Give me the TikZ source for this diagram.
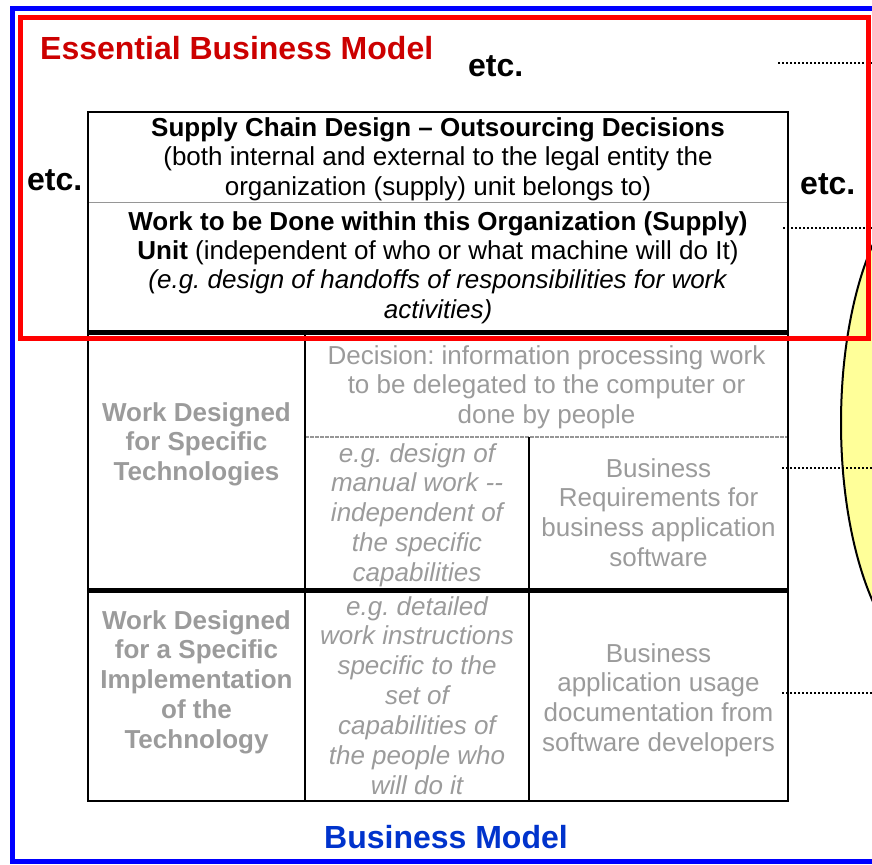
\documentclass[tikz,border=0pt]{standalone}
\usepackage{fontspec}
\setmainfont{Liberation Sans}
\usetikzlibrary{shapes.geometric}
\frenchspacing
\definecolor{txtgray}{RGB}{155,155,155}
\definecolor{ebmred}{RGB}{204,0,0}
\definecolor{bmblue}{RGB}{0,51,204}
\definecolor{frameblue}{RGB}{0,0,255}
\definecolor{framered}{RGB}{255,0,0}
\definecolor{ellyellow}{RGB}{255,255,153}
\definecolor{linegray}{RGB}{150,150,150}
\begin{document}
\begin{tikzpicture}[x=1pt,y=-1pt,
  cell/.style={align=center, inner sep=0pt, anchor=base, font=\fontsize{26}{29.9}\selectfont},
  graycell/.style={cell, text=txtgray},
  big/.style={inner sep=0pt, anchor=base west, font=\fontsize{32}{38}\selectfont\bfseries},
  dotline/.style={line width=1.5pt, dash pattern=on 1.5pt off 2.5pt},
  tableline/.style={line width=2.5pt},
  thickline/.style={line width=5pt},
  frame/.style={line width=5pt}]
\useasboundingbox (0,0) rectangle (872,864);
\clip (0,0) rectangle (872,864);
% outer blue frame
\draw[frame, frameblue] (12,9) rectangle (900,861);
% ellipse
\node[draw=black, line width=2pt, fill=ellyellow, ellipse, minimum width=200pt, minimum height=488pt, inner sep=0pt] (ell) at (941,423) {};
% table
\draw[line width=1pt, linegray] (88,202) -- (788,202);
\draw[line width=1.2pt, linegray, dash pattern=on 4pt off 1pt] (305,437) -- (788,437);
\draw[line width=2pt] (529,437) -- (529,801);
\draw[tableline] (305,332) -- (305,801);
\draw[thickline] (88,332) -- (788,332);
\draw[thickline] (88,590) -- (788,590);
\draw[tableline] (88,112) rectangle (788,801);
% cell texts (anchor = baseline of the last line)
\node[cell] (t1) at (438,195.8) {\textbf{Supply Chain Design -- Outsourcing Decisions}\\(both internal and external to the legal entity the\\organization (supply) unit belongs to)};
\node[cell, font=\fontsize{26}{29.4}\selectfont] (t2) at (438,318.2) {\textbf{Work to be Done within this Organization (Supply)}\\\textbf{Unit} (independent of who or what machine will do It)\\\textit{(e.g. design of handoffs of responsibilities for work}\\\textit{activities)}};
\node[graycell, font=\fontsize{26}{29.9}\selectfont\bfseries] (l1) at (196.5,480.8) {Work Designed\\for Specific\\Technologies};
\node[graycell] (d1) at (546.5,423.8) {Decision: information processing work\\to be delegated to the computer or\\done by people};
\node[graycell, font=\fontsize{26}{29.9}\selectfont\itshape] (i1) at (417,581.6) {e.g. design of\\manual work -{}-\\independent of\\the specific\\capabilities};
\node[graycell] (b1) at (658.5,566.7) {Business\\Requirements for\\business application\\software};
\node[graycell, font=\fontsize{26}{29.9}\selectfont\bfseries] (l2) at (196.5,748.6) {Work Designed\\for a Specific\\Implementation\\of the\\Technology};
\node[graycell, font=\fontsize{26}{29.9}\selectfont\itshape] (i2) at (417,794.4) {e.g. detailed\\work instructions\\specific to the\\set of\\capabilities of\\the people who\\will do it};
\node[graycell] (b2) at (658.5,751.7) {Business\\application usage\\documentation from\\software developers};
% headings
\node[big, text=ebmred] (ebm) at (40,60) {Essential Business Model};
\node[big] (etc1) at (468,77) {etc.};
\node[big] (etc2) at (27,190) {etc.};
\node[big] (etc3) at (800,194) {etc.};
\node[big, anchor=base, text=bmblue] (bm) at (446,848) {Business Model};
% dotted connectors
\coordinate (p1) at (778,63);  \coordinate (q1) at (880,63);
\coordinate (p2) at (783,228); \coordinate (q2) at (880,228);
\coordinate (p3) at (782,468); \coordinate (q3) at (880,468);
\coordinate (p4) at (782,693); \coordinate (q4) at (880,693);
\draw[dotline] (p1) -- (q1);
\draw[dotline] (p2) -- (q2);
\draw[dotline] (p3) -- (q3);
\draw[dotline] (p4) -- (q4);
% red frame
\draw[frame, framered] (20,18) rectangle (868,338);
\end{tikzpicture}
\end{document}
